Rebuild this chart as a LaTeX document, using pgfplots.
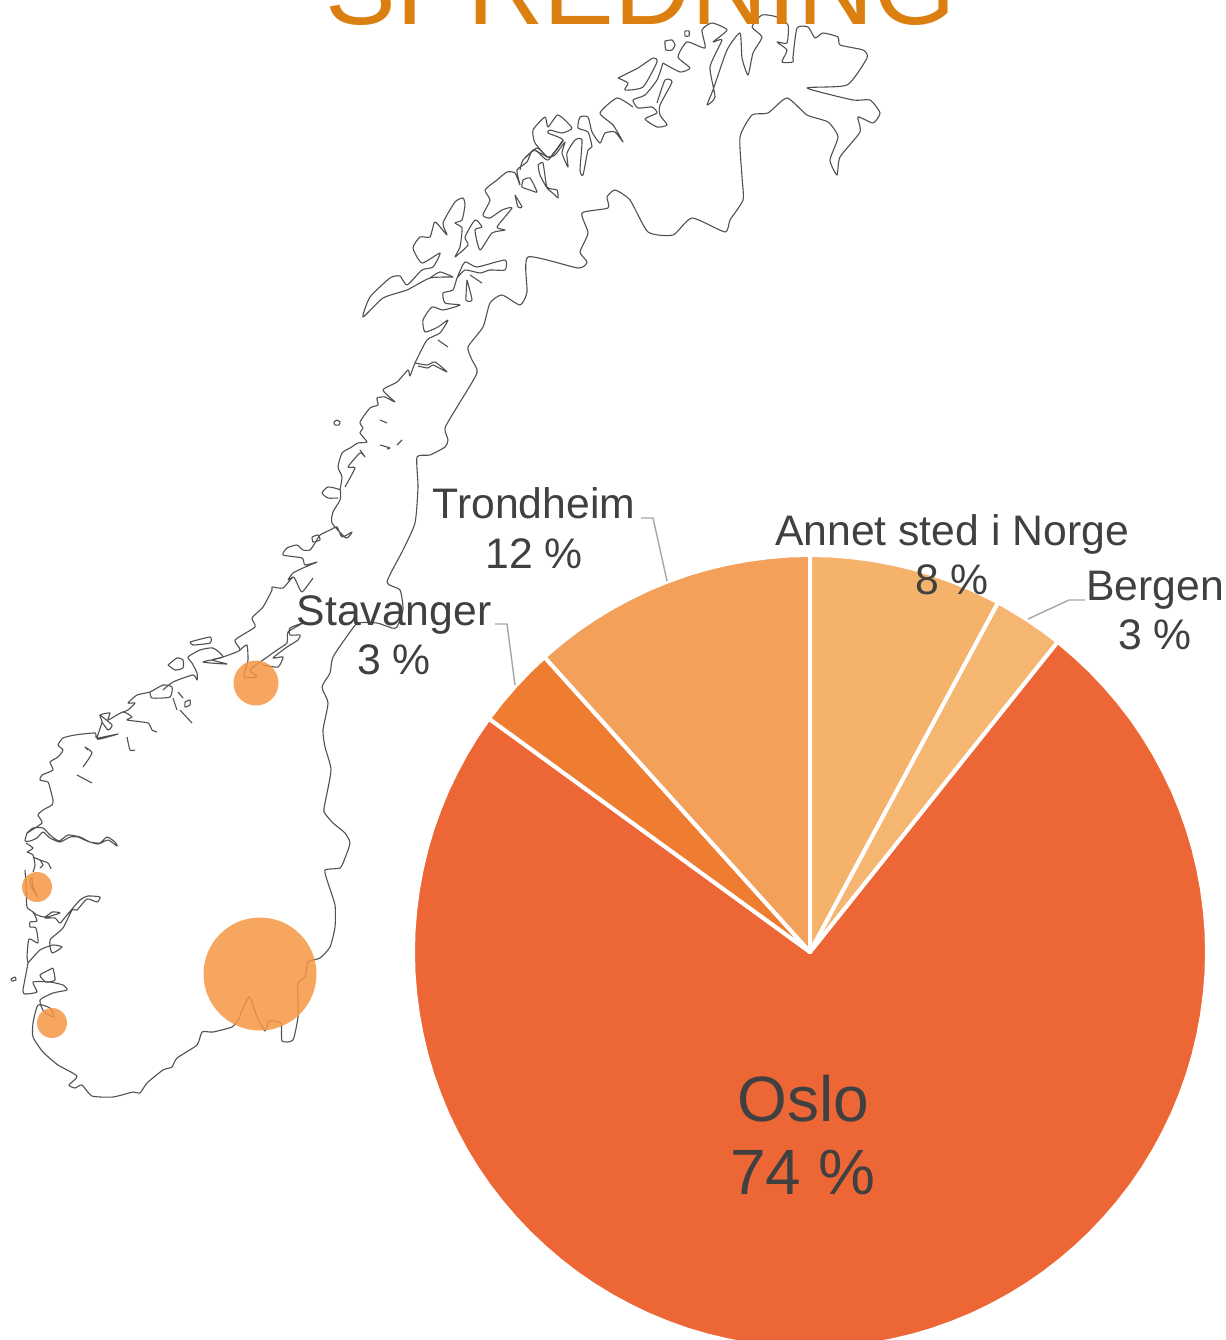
\documentclass[border=0pt]{standalone}
\usepackage{fontspec}
\setmainfont{Liberation Sans}
\usepackage{pgfplots}
\pgfplotsset{compat=1.18}
\definecolor{cOslo}{HTML}{ED6635}
\definecolor{cStav}{HTML}{EF7D31}
\definecolor{cTrond}{HTML}{F2A05A}
\definecolor{cAnnet}{HTML}{F5B26B}
\definecolor{cBerg}{HTML}{F5B672}
\definecolor{cBub}{HTML}{F69643}
\definecolor{cTxt}{HTML}{404040}
\definecolor{cTitle}{HTML}{DB8010}
\definecolor{cLead}{HTML}{A6A6A6}
\definecolor{cMap}{HTML}{505050}
\begin{document}
\begin{tikzpicture}
\useasboundingbox (0,0) rectangle (1225pt,1340pt);
\begin{axis}[
  at={(0,0)}, anchor=south west,
  scale only axis, width=1225pt, height=1340pt,
  xmin=0, xmax=1225, ymin=0, ymax=1340, y dir=reverse,
  hide axis,
  map/.style={draw=cMap, line width=1.1pt, line join=round, smooth, tension=0.35, no markers, forget plot},
  wedge/.style={draw=white, line width=4pt, line join=round, no markers, forget plot},
  lead/.style={draw=cLead, line width=1.4pt, no markers, forget plot},
  bub/.style={only marks, mark=*, mark options={fill=cBub, draw=cBub, line width=0pt, fill opacity=0.85, draw opacity=0}, forget plot},
]
% ---------- map: border and south coast
\addplot[map] coordinates {(663,63)(680,72)(690,68)(678,57)(687,42)(705,48)(702,30)(712,23)(727,30)(713,42)(722,40)(710,67)(715,97)(707,105)(713,90)(727,50)(740,33)(742,58)(748,75)(753,53)(762,37)(752,27)(762,15)(777,17)(788,25)(787,43)(777,42)(787,50)(782,62)(793,62)(793,57)(797,28)(808,27)(815,38)(823,33)(838,37)(840,45)(863,50)(867,58)(847,85)(807,88)(853,100)(870,100)(880,113)(873,123)(858,117)(860,132)(840,157)(837,175)(830,160)(838,137)(828,122)(807,115)(787,98)(768,113)(752,115)(740,137)(742,177)(743,200)(730,220)(725,232)(692,218)(673,235)(648,232)(630,200)(615,190)(607,197)(608,208)(582,213)(588,233)(580,252)(587,262)(578,268)(528,257)(527,292)(520,305)(502,295)(490,303)(483,327)(468,347)(472,360)(477,373)(457,407)(445,428)(448,440)(445,447)(430,455)(417,457)(418,487)(415,523)(403,550)(387,582)(400,590)(403,610)(397,627)(392,628)(377,623)(358,623)(350,632)(333,657)(330,673)(322,687)(328,703)(323,730)(325,747)(331,770)(325,803)(324,812)(333,823)(345,833)(350,843)(345,858)(340,868)(325,870)(328,883)(335,905)(335,927)(330,947)(320,958)(308,962)(305,977)(298,983)(298,1000)(298,1017)(293,1040)(282,1041)(281,1023)(269,1021)(265,1031)(257,1017)(249,997)(238,1020)(232,1027)(213,1032)(202,1032)(197,1045)(177,1058)(172,1067)(163,1070)(147,1083)(140,1093)(133,1092)(113,1097)(92,1096)(82,1085)(75,1088)(69,1085)(77,1076)(58,1065)(43,1052)(33,1037)(33,1023)(38,1005)(50,1008)(54,1017)(44,1012)(40,1000)(53,993)(67,990)(63,985)(50,982)(33,982)(37,992)(25,994)(23,990)(28,963)(27,957)(29,939)(38,943)(36,928)(30,927)(30,922)(37,921)(33,912)(27,907)(26,885)(25,870)};
\addplot[map] coordinates {(28,963)(40,950)(53,945)(62,947)(52,953)(50,940)(63,928)(72,910)(77,910)(87,899)(97,902)(100,897)(88,896)(80,900)(67,915)(60,923)(55,918)(45,918)(60,913)(52,912)(45,917)(37,915)(33,912)};
\addplot[map] coordinates {(53,968)(40,975)(46,982)(55,980)(53,968)};
\addplot[map] coordinates {(32,877)(33,887)(38,897)(32,888)(30,880)(32,877)};
\addplot[map] coordinates {(27,852)(33,855)(35,865)(33,872)};
\addplot[map] coordinates {(33,857)(40,860)(48,863)(51,869)};
\addplot[map] coordinates {(40,860)(43,865)(40,868)};
\addplot[map] coordinates {(27,852)(33,848)(26,843)};
\addplot[map] coordinates {(27,833)(33,828)(43,828)(50,835)(59,841)(68,835)(80,837)(90,842)(100,843)(107,837)(115,842)(117,846)(108,840)(98,844)(87,841)(78,837)(70,837)(60,842)(50,838)(43,832)(37,838)(30,841)(25,841)(27,833)};
\addplot[map] coordinates {(27,833)(42,823)(38,815)(43,810)(52,805)(53,800)(50,788)(48,782)(40,780)(42,775)(53,770)(50,762)(58,757)(63,750)(58,745)(63,738)(75,735)(95,733)(97,738)(118,734)(100,739)(97,738)(102,722)(100,715)(110,713)(108,720)(123,712)(132,717)(127,720)(148,723)(152,730)(157,732)};
\addplot[map] coordinates {(102,722)(108,730)(112,725)(100,715)};
\addplot[map] coordinates {(123,712)(128,710)(135,703)(128,703)(137,695)(150,692)(163,685)(172,687)(170,697)(152,698)(150,692)};
\addplot[map] coordinates {(163,690)(173,682)(193,675)(197,680)(197,673)(192,663)(188,657)(200,650)(213,648)(223,657)(203,662)(227,664)(212,660)(223,657)(240,650)(235,640)(255,627)(252,618)(263,607)(272,590)(272,587)(283,588)(293,577)(297,583)(302,592)(313,578)};
\addplot[map] coordinates {(240,650)(247,645)(248,660)(246,668)(244,677)(257,677)(250,670)(260,662)(263,660)(277,650)(287,643)(288,632)(303,623)(290,628)(290,635)(300,635)(298,640)(287,647)(273,658)(283,657)(278,667)(263,665)};
\addplot[map] coordinates {(293,577)(288,580)(293,573)(303,568)(317,562)(305,565)(302,558)(283,555)(287,548)(297,545)(303,550)(310,550)(315,543)(320,535)(330,530)(337,527)(342,537)(352,532)(346,538)(332,523)(333,512)(340,500)(340,490)(328,487)(322,493)(328,498)(338,498)};
\addplot[map] coordinates {(312,537)(318,535)(320,540)(313,542)(312,537)};
\addplot[map] coordinates {(340,490)(342,477)(338,467)(342,453)(350,448)(358,443)(367,442)(360,433)(363,428)(360,422)(370,408)(378,405)(377,398)(385,397)(395,402)(383,390)(397,382)(408,370)(410,376)(415,363)(427,340)(440,333)(448,320)(438,327)(425,332)(423,320)(432,307)(443,310)(460,305)(445,303)(443,293)(453,290)(457,278)(465,262)(477,267)(505,260)(505,270)(490,270)(480,273)(465,270)(457,278)};
\addplot[map] coordinates {(345,487)(355,468)(348,467)(360,453)(365,457)(360,450)};
\addplot[map] coordinates {(415,363)(427,365)(435,362)(447,372)(433,365)(428,368)(418,366)};
\addplot[map] coordinates {(453,277)(430,278)(407,290)(383,298)(363,317)(370,297)(390,278)(400,276)(407,285)(422,270)(433,267)(440,253)(422,263)(413,248)(420,237)(430,237)(435,222)(447,235)(443,223)(455,202)(463,198)(465,205)(462,220)(455,223)(462,228)(460,247)(455,257)(468,245)(465,237)(475,220)(482,227)(475,230)(480,250)(492,233)(505,230)(497,227)(512,208)(502,210)(490,218)(483,215)(490,200)(485,190)(497,180)(507,172)(515,173)(520,185)(517,170)(527,162)(533,150)(550,157)(563,140)};
\addplot[map] coordinates {(430,278)(440,272)(453,277)};
% islands and inner details
\addplot[map] coordinates {(168,665)(177,658)(183,660)(183,668)(175,670)(168,665)};
\addplot[map] coordinates {(190,642)(210,637)(210,643)(193,645)(190,642)};
\addplot[map] coordinates {(173,698)(177,710)};
\addplot[map] coordinates {(180,710)(192,723)};
\addplot[map] coordinates {(185,702)(190,700)(190,705)(185,707)(185,702)};
\addplot[map] coordinates {(178,692)(183,698)};
\addplot[map] coordinates {(77,775)(92,783)};
\addplot[map] coordinates {(83,767)(92,753)(85,747)(88,750)};
\addplot[map] coordinates {(127,737)(130,750)(135,750)};
\addplot[map] coordinates {(11,979)(15,977)(16,980)(12,981)(11,979)};
\addplot[map] coordinates {(337,420)(340,422)(339,425)(335,425)(334,422)(337,420)};
\addplot[map] coordinates {(380,420)(387,423)};
\addplot[map] coordinates {(380,445)(390,448)(387,449)};
\addplot[map] coordinates {(397,445)(402,440)};
\addplot[map] coordinates {(538,165)(543,163)(547,187)(557,190)(558,198)(555,195)(547,188)(540,175)(538,165)};
\addplot[map] coordinates {(515,195)(522,207)(518,207)(515,195)};
\addplot[map] coordinates {(523,180)(530,178)(537,192)(530,190)(522,187)(523,180)};
\addplot[map] coordinates {(467,280)(472,300)(466,300)(467,280)};
\addplot[map] coordinates {(470,275)(482,283)};
\addplot[map] coordinates {(438,340)(448,347)};
\addplot[map] coordinates {(618,78)(638,68)(653,58)(657,62)(643,87)(625,90)(628,83)(618,78)};
\addplot[map] coordinates {(665,41)(672,40)(675,45)(672,50)(666,50)(665,45)(665,41)};
\addplot[map] coordinates {(685,31)(689,31)(689,36)(685,36)(685,31)};
\addplot[map] coordinates {(663,63)(657,80)(645,95)(633,100)(638,108)(652,107)(657,113)(645,119)(657,127)(667,125)(660,115)(660,105)(672,82)(665,80)(657,103)};
\addplot[map] coordinates {(633,107)(617,98)(600,113)(613,125)(623,142)(615,132)(605,133)(600,143)(592,132)(588,117)(580,117)(578,128)(588,132)(592,147)(588,150)(583,175)(580,170)(582,140)(575,140)(567,153)(568,167)(562,153)(565,142)(555,155)(547,157)(537,148)(523,160)(520,170)};
\addplot[map] coordinates {(547,157)(535,143)(533,130)(545,117)(548,127)(558,115)(572,128)(562,133)(550,130)(548,133)(563,140)(552,155)};
\addplot[map] coordinates {(563,140)(548,160)(535,150)(525,158)};
% ---------- bubbles
\addplot[bub, mark size=56.5pt] coordinates {(260,974)};
\addplot[bub, mark size=22.5pt] coordinates {(256,683)};
\addplot[bub, mark size=15pt] coordinates {(37,887)};
\addplot[bub, mark size=15pt] coordinates {(52,1023)};
% ---------- pie
\addplot[wedge, fill=cOslo] coordinates {(810,952)(1057.7,641.7)(1075.6,657)(1090.7,671.3)(1105,686.4)(1118.5,702.2)(1131.2,718.6)(1143,735.8)(1153.8,753.5)(1163.7,771.8)(1172.7,790.5)(1180.6,809.7)(1187.6,829.3)(1193.5,849.2)(1198.3,869.5)(1202.1,889.9)(1204.8,910.5)(1206.5,931.2)(1207,952)(1206.5,972.8)(1204.8,993.5)(1202.1,1014.1)(1198.3,1034.5)(1193.5,1054.8)(1187.6,1074.7)(1180.6,1094.3)(1172.7,1113.5)(1163.7,1132.2)(1153.8,1150.5)(1143,1168.2)(1131.2,1185.4)(1118.5,1201.8)(1105,1217.6)(1090.7,1232.7)(1075.6,1247)(1059.8,1260.5)(1043.4,1273.2)(1026.2,1285)(1008.5,1295.8)(990.2,1305.7)(971.5,1314.7)(952.3,1322.6)(932.7,1329.6)(912.8,1335.5)(892.5,1340.3)(872.1,1344.1)(851.5,1346.8)(830.8,1348.5)(810,1349)(789.2,1348.5)(768.5,1346.8)(747.9,1344.1)(727.5,1340.3)(707.2,1335.5)(687.3,1329.6)(667.7,1322.6)(648.5,1314.7)(629.8,1305.7)(611.5,1295.8)(593.8,1285)(576.6,1273.2)(560.2,1260.5)(544.4,1247)(529.3,1232.7)(515,1217.6)(501.5,1201.8)(488.8,1185.4)(477,1168.2)(466.2,1150.5)(456.3,1132.2)(447.3,1113.5)(439.4,1094.3)(432.4,1074.7)(426.5,1054.8)(421.7,1034.5)(417.9,1014.1)(415.2,993.5)(413.5,972.8)(413,952)(413.5,931.2)(415.2,910.5)(417.9,889.9)(421.7,869.5)(426.5,849.2)(432.4,829.3)(439.4,809.7)(447.3,790.5)(456.3,771.8)(466.2,753.5)(477,735.8)(488.8,718.6)} -- cycle;
\addplot[wedge, fill=cStav] coordinates {(810,952)(488.8,718.6)(501.5,702.2)(515,686.4)(529.3,671.3)(544.4,657)} -- cycle;
\addplot[wedge, fill=cTrond] coordinates {(810,952)(544.4,657)(560.2,643.5)(576.6,630.8)(593.8,619)(611.5,608.2)(629.8,598.3)(648.5,589.3)(667.7,581.4)(687.3,574.4)(707.2,568.5)(727.5,563.7)(747.9,559.9)(768.5,557.2)(789.2,555.5)(810,555)} -- cycle;
\addplot[wedge, fill=cAnnet] coordinates {(810,952)(810,555)(830.8,555.5)(851.5,557.2)(872.1,559.9)(892.5,563.7)(912.8,568.5)(932.7,574.4)(952.3,581.4)(971.5,589.3)(990.2,598.3)(998.2,602.4)} -- cycle;
\addplot[wedge, fill=cBerg] coordinates {(810,952)(998.2,602.4)(1008.5,608.2)(1026.2,619)(1043.4,630.8)(1057.7,641.7)} -- cycle;
% ---------- leaders
\addplot[lead] coordinates {(641,518)(653,518)(667,581)};
\addplot[lead] coordinates {(495,624)(507,624)(515,685)};
\addplot[lead] coordinates {(1085,600)(1069,600)(1028,619)};
% ---------- text
\node[anchor=base, text=cTitle, font=\fontsize{106}{120}\selectfont] at (axis cs:641,25) {SPREDNING};
\node[anchor=base, text=cTxt, font=\fontsize{42.7}{50}\selectfont] at (axis cs:534,518) {Trondheim};
\node[anchor=base, text=cTxt, font=\fontsize{42.7}{50}\selectfont] at (axis cs:534,568) {12 \%};
\node[anchor=base, text=cTxt, font=\fontsize{42.7}{50}\selectfont] at (axis cs:394,625) {Stavanger};
\node[anchor=base, text=cTxt, font=\fontsize{42.7}{50}\selectfont] at (axis cs:394,674) {3 \%};
\node[anchor=base, text=cTxt, font=\fontsize{42.7}{50}\selectfont] at (axis cs:952,545) {Annet sted i Norge};
\node[anchor=base, text=cTxt, font=\fontsize{42.7}{50}\selectfont] at (axis cs:952,594) {8 \%};
\node[anchor=base, text=cTxt, font=\fontsize{42.7}{50}\selectfont] at (axis cs:1155,600) {Bergen};
\node[anchor=base, text=cTxt, font=\fontsize{42.7}{50}\selectfont] at (axis cs:1155,649) {3 \%};
\node[anchor=base, text=cTxt, font=\fontsize{64}{70}\selectfont] at (axis cs:803,1121) {Oslo};
\node[anchor=base, text=cTxt, font=\fontsize{64}{70}\selectfont] at (axis cs:803,1194) {74 \%};
\end{axis}
\end{tikzpicture}
\end{document}
